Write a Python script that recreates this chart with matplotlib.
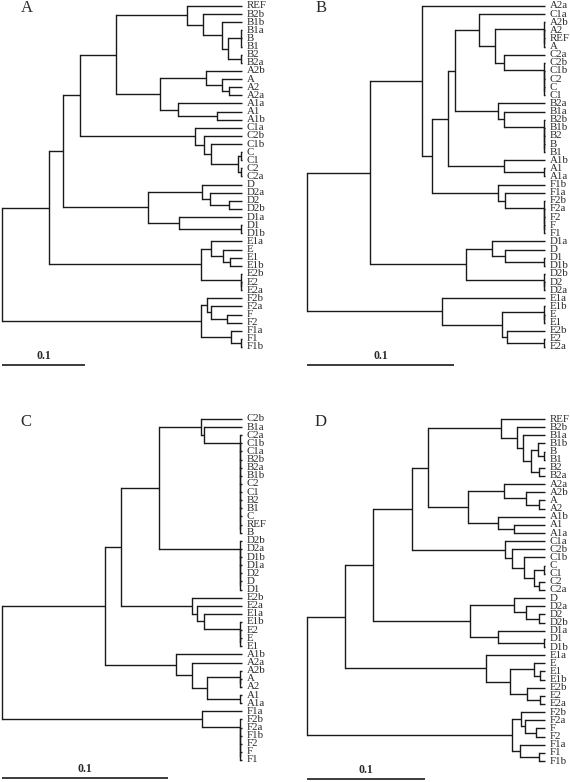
import matplotlib
matplotlib.use('Agg')
import matplotlib.pyplot as plt

plt.rcParams['font.family'] = ['Liberation Serif', 'DejaVu Serif']

Z = 0.001  # zero-length branches, drawn as a tiny stub


def ladder(*names):
    # zero-length clusters are drawn as a comb, like the original software does
    if len(names) == 1:
        return names[0]
    return (Z, names[0], ladder(*names[1:]))


# trees: (height, child, child, ...) ; leaves are strings, heights in distance units
TREE_A = (0.289,
          (0.233,
           (0.216,
            (0.195,
             (0.152,
              (0.066, 'REF',
               (0.047, 'B2b',
                (0.024, 'B1b',
                 (0.017, (Z, 'B1a', 'B', 'B1'), (Z, 'B2', 'B2a'))))),
              (0.099,
               (0.043, 'A2b', (0.024, 'A', (0.016, 'A2', 'A2a'))),
               (0.077, 'A1a', (0.030, 'A1', 'A1b')))),
             (0.057, 'C1a',
              (0.046, 'C2b',
               (0.037, 'C1b', (0.005, (Z, 'C', 'C1'), (Z, 'C2', 'C2a')))))),
            (0.113,
             (0.048, 'D', (0.039, 'D2a', (0.016, 'D2', 'D2b'))),
             (0.076, 'D1a', (Z, 'D1', 'D1b')))),
           (0.049,
            (0.037, 'E1a', (0.023, 'E', (0.014, 'E1', 'E1b'))),
            ladder('E2b', 'E2', 'E2a'))),
          (0.049,
           (0.042, 'F2b', (0.037, 'F2a', (0.018, 'F', 'F2'))),
           (0.013, 'F1a', (Z, 'F1', 'F1b'))))

TREE_B = (0.162,
          (0.119,
           (0.084, 'A2a',
            (0.077,
             (0.066,
              (0.061,
               (0.045, 'C1a',
                (0.034,
                 ladder('A2b', 'A2', 'REF', 'A'),
                 (0.028, 'C2a', ladder('C2b', 'C1b', 'C2', 'C', 'C1')))),
               (0.032, 'B2a',
                (0.028, 'B1a', ladder('B2b', 'B1b', 'B2', 'B', 'B1')))),
              (0.028, 'A1b', (Z, 'A1', 'A1a'))),
             (0.032, 'F1b',
              (0.027, 'F1a', ladder('F2b', 'F2a', 'F2', 'F', 'F1'))))),
           (0.054,
            (0.036, 'D1a', (0.027, 'D', (Z, 'D1', 'D1b'))),
            ladder('D2b', 'D2', 'D2a'))),
          (0.070, 'E1a',
           (0.029,
            ladder('E1b', 'E', 'E1'),
            (0.026, 'E2b', (Z, 'E2', 'E2a')))))

TREE_C = (0.145,
          (0.083,
           (0.073,
            (0.050,
             (0.025, 'C2b',
              (0.023, 'B1a',
               ladder('C2a', 'C1b', 'C1a', 'B2b', 'B2a', 'B1b', 'C2',
                      'C1', 'B2', 'B1', 'C', 'REF', 'B'))),
             ladder('D2b', 'D2a', 'D1b', 'D1a', 'D2', 'D', 'D1')),
            (0.030, 'E2b',
             (0.027, 'E2a',
              (0.023, 'E1a', ladder('E1b', 'E2', 'E', 'E1'))))),
           (0.040, 'A1b',
            (0.030, 'A2a',
             (0.021, ladder('A2b', 'A', 'A2'), (Z, 'A1', 'A1a'))))),
          (0.024, 'F1a', ladder('F2b', 'F2a', 'F1b', 'F2', 'F', 'F1')))

TREE_D = (0.202,
          (0.170,
           (0.146,
            (0.113,
             (0.099,
              (0.037, 'REF',
               (0.024, 'B2b',
                (0.019, 'B1a',
                 (0.012, (0.006, 'B1b', (Z, 'B', 'B1')), (0.005, 'B2', 'B2a'))))),
              (0.065,
               (0.035, 'A2a', (0.016, 'A2b', (0.005, 'A', 'A2'))),
               (0.040, 'A1b', (0.026, 'A1', 'A1a')))),
             (0.034, 'C1a',
              (0.028, 'C2b',
               (0.018, 'C1b', (0.009, (Z, 'C', 'C1'), (0.005, 'C2', 'C2a')))))),
            (0.064,
             (0.026, 'D', (0.016, 'D2a', (0.005, 'D2', 'D2b'))),
             (0.040, 'D1a', (Z, 'D1', 'D1b')))),
           (0.050, 'E1a',
            (0.030,
             (0.009, 'E', (0.004, 'E1', 'E1b')),
             (0.015, 'E2b', (0.004, 'E2', 'E2a'))))),
          (0.028,
           (0.020, 'F2b', (0.017, 'F2a', (0.008, 'F', 'F2'))),
           (0.021, 'F1a', (0.005, 'F1', 'F1b'))))

SCALE_LEN = 0.1
SCALE_LABEL = '0.1'

W, H = 570, 782
LINE = '#1a1a1a'
TXT = '#2a2a2a'
LW = 1.0

# letter, tree, root px, leaf px, top leaf px, bottom leaf px, letter pos
PANELS = [
    ('A', TREE_A, 2, 242, 6, 347, (27, 8)),
    ('B', TREE_B, 307, 545, 6, 347, (321, 8)),
    ('C', TREE_C, 2, 242, 419, 760, (26, 422)),
    ('D', TREE_D, 307, 545, 419, 761, (321, 422)),
]


def draw_node(ax, node, leaves):
    if isinstance(node, str):
        y = len(leaves)
        leaves.append(node)
        return y, 0.0
    h = node[0]
    kids = [draw_node(ax, c, leaves) for c in node[1:]]
    for ky, kh in kids:
        ax.plot([h, kh], [ky, ky], color=LINE, lw=LW,
                solid_capstyle='butt', clip_on=False)
    ax.plot([h, h], [kids[0][0], kids[-1][0]], color=LINE, lw=LW,
            solid_capstyle='projecting', clip_on=False)
    return (kids[0][0] + kids[-1][0]) / 2, h


fig = plt.figure(figsize=(W / 100, H / 100), dpi=100)
fig.patch.set_facecolor('white')

for letter, tree, x0, x1, y0, y1, lpos in PANELS:
    ax = fig.add_axes([x0 / W, 1 - y1 / H, (x1 - x0) / W, (y1 - y0) / H])
    ax.axis('off')
    leaves = []
    draw_node(ax, tree, leaves)
    n = len(leaves)
    ax.set_xlim(tree[0], 0)
    ax.set_ylim(n - 1, 0)

    for i, name in enumerate(leaves):
        ax.annotate(name, (0, i), xytext=(3.3, 0), textcoords='offset points',
                    ha='left', va='center', fontsize=7.8, color=TXT,
                    annotation_clip=False)

    yb = n - 1 + 2.25
    ax.plot([tree[0], tree[0] - SCALE_LEN], [yb, yb], color=LINE, lw=1.2,
            solid_capstyle='butt', clip_on=False)
    ax.text(tree[0] - SCALE_LEN / 2, yb - 0.35, SCALE_LABEL, ha='center',
            va='bottom', fontsize=8.5, fontweight='bold', color=TXT, clip_on=False)

    fig.text(lpos[0] / W, 1 - lpos[1] / H, letter, ha='center', va='center',
             fontsize=12, color=TXT)

fig.savefig('out.png', dpi=100, facecolor='white')
